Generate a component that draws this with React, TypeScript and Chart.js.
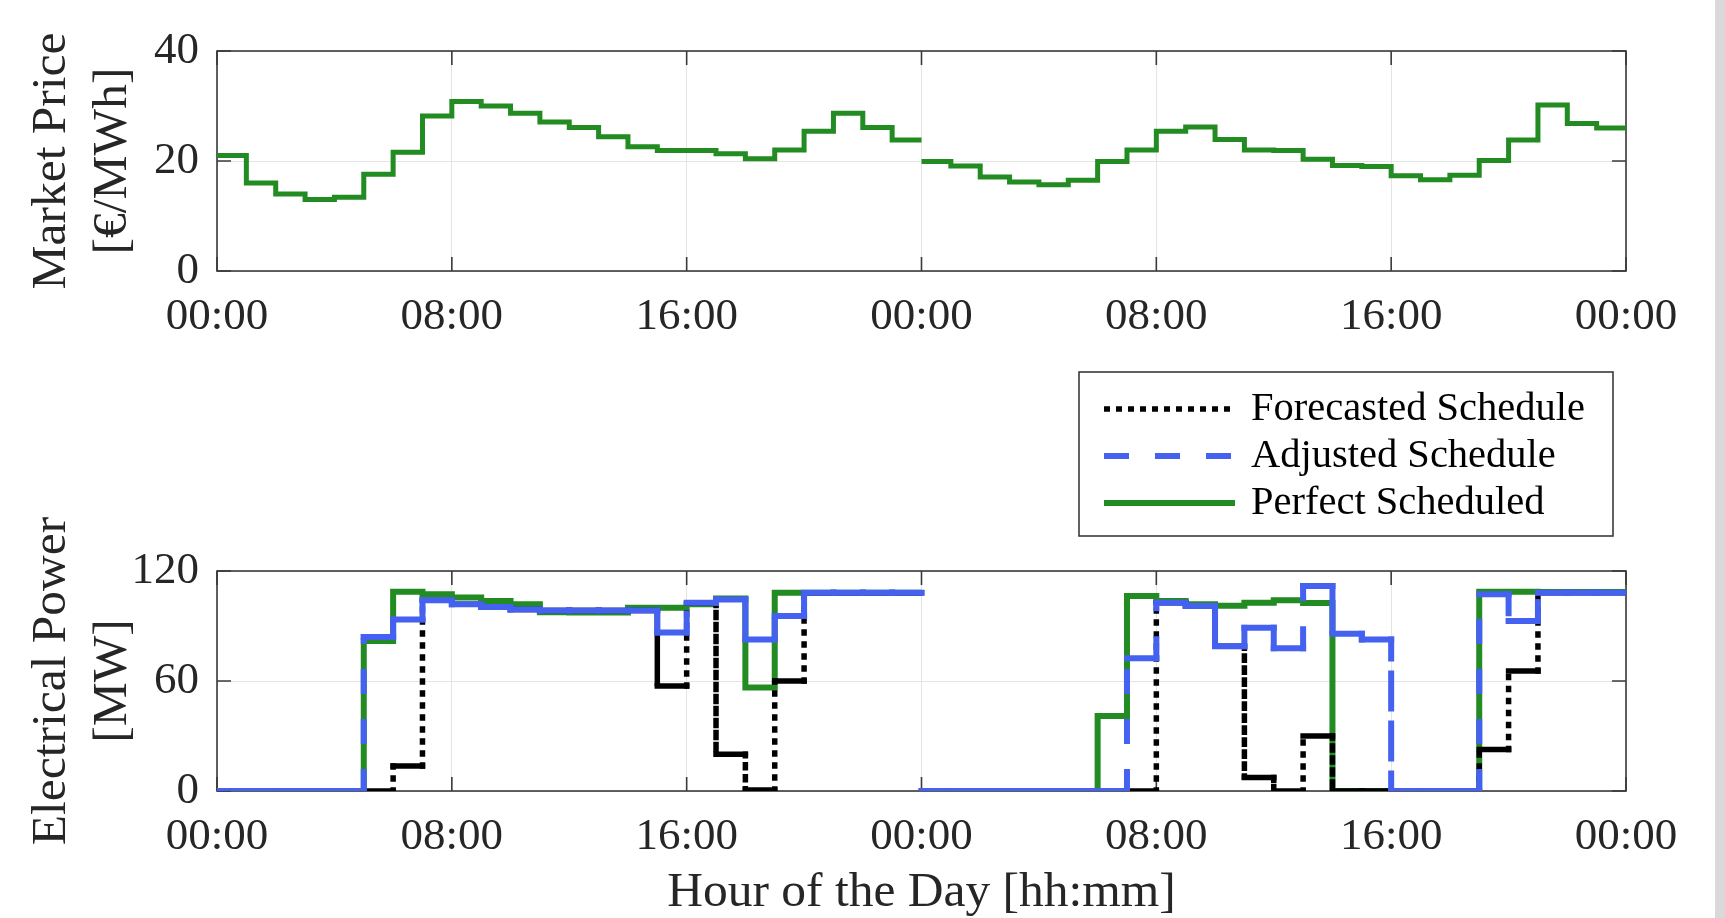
import React, { useEffect, useRef } from 'react';
import { Chart, registerables } from 'chart.js';

Chart.register(...registerables);

// ---------- data ----------
const hourTickValues = [0, 8, 16, 24, 32, 40, 48];
const hourTickLabels = ['00:00', '08:00', '16:00', '00:00', '08:00', '16:00', '00:00'];
const priceTickValues = [0, 20, 40];
const powerTickValues = [0, 60, 120];

const priceDay1 = [21.0, 16.0, 14.0, 13.0, 13.4, 17.6, 21.6, 28.2, 30.8, 30.0, 28.7, 27.1, 26.1, 24.4, 22.6, 21.9, 21.9, 21.3, 20.4, 22.0, 25.4, 28.7, 26.1, 23.8];
const priceDay2 = [19.9, 19.1, 17.1, 16.2, 15.7, 16.5, 19.9, 22.0, 25.4, 26.2, 23.9, 22.0, 21.9, 20.3, 19.2, 19.0, 17.3, 16.6, 17.4, 20.1, 23.8, 30.2, 26.8, 26.0];

const forecastDay1 = [0, 0, 0, 0, 0, 0, 13.6, 104, 101.8, 100.4, 99, 98.5, 98.5, 98.5, 98.5, 57.3, 102.5, 20, 0.5, 60, 108.2, 108.2, 108.2, 108.2];
const forecastDay2 = [0, 0, 0, 0, 0, 0, 0, 0, 102.7, 101, 79, 7.3, 0, 30, 0, 0, 0, 0, 0, 22.7, 65.5, 108.2, 108.2, 108.2];

const adjustedDay1 = [0, 0, 0, 0, 0, 84, 93.6, 104, 101.8, 100.4, 99, 98.5, 98.5, 98.5, 98.5, 86.4, 102.7, 104.5, 82.7, 95.5, 108.2, 108.2, 108.2, 108.2];
const adjustedDay2 = [0, 0, 0, 0, 0, 0, 0, 72.4, 102.7, 100.9, 79, 89, 77.8, 111.8, 85.8, 82.7, 0, 0, 0, 107.3, 92.7, 108.2, 108.2, 108.2];

const perfectDay1 = [0, 0, 0, 0, 0, 81.8, 108.7, 107.3, 105.5, 103.6, 101.8, 97.5, 97.3, 97.3, 100, 100, 101.8, 105, 56.4, 108.2, 108.2, 108.2, 108.2, 108.2];
const perfectDay2 = [0, 0, 0, 0, 0, 0, 40.9, 106.4, 103.6, 101.8, 101, 102.7, 104, 102.5, 0, 0, 0, 0, 0, 108.7, 108.7, 108.5, 108.5, 108.5];

const seriesLabels = ['Forecasted Schedule', 'Adjusted Schedule', 'Perfect Scheduled'];

// ---------- styles ----------
const FONT = "'Liberation Serif', 'Times New Roman', serif";
const TEXT = '#262626';
const AXIS = '#3a3a3a';
const GRID = '#e4e4e4';
const GREEN = '#228B22';
const BLUE = '#4561F0';
const BLACK = '#000000';
const TICK_SIZE = 45;
const LABEL_SIZE = 49.5;
const LEGEND_SIZE = 40.5;

type Pt = { x: number; y: number | null };

function stairs(day1: number[], day2: number[]): Pt[] {
  const pts: Pt[] = [];
  [day1, day2].forEach((vals, d) => {
    vals.forEach((v, h) => {
      pts.push({ x: d * 24 + h, y: v });
      pts.push({ x: d * 24 + h + 1, y: v });
    });
    if (d === 0) pts.push({ x: 24, y: null });
  });
  return pts;
}

const verticalDash = (dash: number[]) => (ctx: any) =>
  ctx.p0.parsed.x === ctx.p1.parsed.x ? dash : [];

const axesBox = {
  id: 'axesBox',
  beforeDatasetsDraw(chart: any, _args: any, opts: any) {
    const { ctx, chartArea: a, scales } = chart;
    const TL = 14;
    ctx.save();
    ctx.strokeStyle = AXIS;
    ctx.lineWidth = 1.6;
    ctx.setLineDash([]);
    ctx.beginPath();
    for (const v of opts.xTicks) {
      const x = scales.x.getPixelForValue(v);
      ctx.moveTo(x, a.bottom);
      ctx.lineTo(x, a.bottom - TL);
      ctx.moveTo(x, a.top);
      ctx.lineTo(x, a.top + TL);
    }
    for (const v of opts.yTicks) {
      const y = scales.y.getPixelForValue(v);
      ctx.moveTo(a.left, y);
      ctx.lineTo(a.left + TL, y);
      ctx.moveTo(a.right, y);
      ctx.lineTo(a.right - TL, y);
    }
    ctx.stroke();
    ctx.strokeRect(a.left, a.top, a.right - a.left, a.bottom - a.top);
    ctx.restore();
  },
};

const legendBox = {
  id: 'legendBox',
  afterDraw(chart: any, _args: any, opts: any) {
    const ctx = chart.ctx;
    const { x, y, w, h, rows, lineX0, lineX1, textX, items } = opts;
    ctx.save();
    ctx.fillStyle = '#ffffff';
    ctx.fillRect(x, y, w, h);
    ctx.strokeStyle = AXIS;
    ctx.lineWidth = 1.6;
    ctx.setLineDash([]);
    ctx.strokeRect(x, y, w, h);
    items.forEach((it: any, i: number) => {
      const cy = rows[i];
      ctx.beginPath();
      ctx.setLineDash(it.dash);
      ctx.lineCap = 'butt';
      ctx.strokeStyle = it.color;
      ctx.lineWidth = it.width;
      ctx.moveTo(lineX0, cy);
      ctx.lineTo(lineX1, cy);
      ctx.stroke();
      ctx.setLineDash([]);
      ctx.fillStyle = '#000000';
      ctx.font = `${LEGEND_SIZE}px ${FONT}`;
      ctx.textBaseline = 'middle';
      ctx.textAlign = 'left';
      ctx.fillText(it.label, textX, cy);
    });
    ctx.restore();
  },
};

function xScale(showTitle: boolean, height: number) {
  return {
    type: 'linear',
    min: 0,
    max: 48,
    afterBuildTicks: (s: any) => {
      s.ticks = hourTickValues.map((v) => ({ value: v }));
    },
    afterFit: (s: any) => {
      s.height = height;
    },
    ticks: {
      autoSkip: false,
      maxRotation: 0,
      minRotation: 0,
      padding: 19,
      color: TEXT,
      font: { family: FONT, size: TICK_SIZE },
      callback: (_v: any, i: number) => hourTickLabels[i],
    },
    grid: { color: GRID, lineWidth: 1, drawTicks: false },
    border: { display: false },
    title: showTitle
      ? {
          display: true,
          text: 'Hour of the Day [hh:mm]',
          color: TEXT,
          font: { family: FONT, size: LABEL_SIZE, lineHeight: 1 },
          padding: { top: 0, bottom: 0 },
        }
      : { display: false },
  };
}

function yScale(max: number, ticks: number[], title: string[]) {
  return {
    type: 'linear',
    min: 0,
    max,
    afterBuildTicks: (s: any) => {
      s.ticks = ticks.map((v) => ({ value: v }));
    },
    afterFit: (s: any) => {
      s.width = 217;
    },
    ticks: {
      padding: 18,
      color: TEXT,
      font: { family: FONT, size: TICK_SIZE },
    },
    grid: { color: GRID, lineWidth: 1, drawTicks: false },
    border: { display: false },
    title: {
      display: true,
      text: title,
      color: TEXT,
      font: { family: FONT, size: LABEL_SIZE, lineHeight: 1.23 },
      padding: { top: 21.5, bottom: 0 },
    },
  };
}

export default function App() {
  const topRef = useRef<HTMLCanvasElement | null>(null);
  const botRef = useRef<HTMLCanvasElement | null>(null);

  useEffect(() => {
    const top = new Chart(topRef.current as HTMLCanvasElement, {
      type: 'line',
      data: {
        datasets: [
          {
            label: 'Market Price',
            data: stairs(priceDay1, priceDay2) as any,
            borderColor: GREEN,
            borderWidth: 5,
            borderJoinStyle: 'miter',
            borderCapStyle: 'butt',
            pointRadius: 0,
            pointHoverRadius: 0,
            fill: false,
            tension: 0,
            spanGaps: false,
          },
        ],
      },
      options: {
        responsive: false,
        animation: false,
        devicePixelRatio: 1,
        events: [],
        layout: { padding: { top: 51, right: 99, bottom: 0, left: 0 } },
        plugins: {
          legend: { display: false },
          tooltip: { enabled: false },
          axesBox: { xTicks: hourTickValues, yTicks: priceTickValues },
        } as any,
        scales: {
          x: xScale(false, 69) as any,
          y: yScale(40, priceTickValues, ['Market Price', '[€/MWh]']) as any,
        },
      },
      plugins: [axesBox],
    });

    const bottom = new Chart(botRef.current as HTMLCanvasElement, {
      type: 'line',
      data: {
        datasets: [
          {
            label: seriesLabels[0],
            data: stairs(forecastDay1, forecastDay2) as any,
            borderColor: BLACK,
            borderWidth: 5.5,
            borderCapStyle: 'square',
            borderJoinStyle: 'miter',
            segment: { borderDash: verticalDash([1, 11]) },
            pointRadius: 0,
            pointHoverRadius: 0,
            fill: false,
            tension: 0,
            spanGaps: false,
            order: 1,
          },
          {
            label: seriesLabels[1],
            data: stairs(adjustedDay1, adjustedDay2) as any,
            borderColor: BLUE,
            borderWidth: 6,
            borderCapStyle: 'square',
            borderJoinStyle: 'miter',
            segment: { borderDash: verticalDash([19, 31]) },
            pointRadius: 0,
            pointHoverRadius: 0,
            fill: false,
            tension: 0,
            spanGaps: false,
            order: 0,
          },
          {
            label: seriesLabels[2],
            data: stairs(perfectDay1, perfectDay2) as any,
            borderColor: GREEN,
            borderWidth: 6,
            borderCapStyle: 'butt',
            borderJoinStyle: 'miter',
            pointRadius: 0,
            pointHoverRadius: 0,
            fill: false,
            tension: 0,
            spanGaps: false,
            order: 2,
          },
        ],
      },
      options: {
        responsive: false,
        animation: false,
        devicePixelRatio: 1,
        events: [],
        layout: { padding: { top: 231, right: 99, bottom: 0, left: 0 } },
        plugins: {
          legend: { display: false },
          tooltip: { enabled: false },
          axesBox: { xTicks: hourTickValues, yTicks: powerTickValues },
          legendBox: {
            x: 1079,
            y: 32,
            w: 534,
            h: 164,
            rows: [69, 116, 163],
            lineX0: 1104,
            lineX1: 1235,
            textX: 1251,
            items: [
              { label: seriesLabels[0], color: BLACK, width: 5.5, dash: [6, 6] },
              { label: seriesLabels[1], color: BLUE, width: 6, dash: [25, 26] },
              { label: seriesLabels[2], color: GREEN, width: 6, dash: [] },
            ],
          },
        } as any,
        scales: {
          x: xScale(true, 127) as any,
          y: yScale(120, powerTickValues, ['Electrical Power', '[MW]']) as any,
        },
      },
      plugins: [axesBox, legendBox],
    });

    return () => {
      top.destroy();
      bottom.destroy();
    };
  }, []);

  return (
    <div
      style={{
        position: 'fixed',
        left: 0,
        top: 0,
        width: 1725,
        height: 918,
        background: '#ffffff',
        overflow: 'hidden',
      }}
    >
      <canvas
        ref={topRef}
        width={1725}
        height={340}
        style={{ position: 'absolute', left: 0, top: 0, width: 1725, height: 340 }}
      />
      <canvas
        ref={botRef}
        width={1725}
        height={578}
        style={{ position: 'absolute', left: 0, top: 340, width: 1725, height: 578 }}
      />
      <div
        style={{
          position: 'absolute',
          left: 1715,
          top: 0,
          width: 10,
          height: 918,
          background: '#d9d9d9',
        }}
      />
    </div>
  );
}
